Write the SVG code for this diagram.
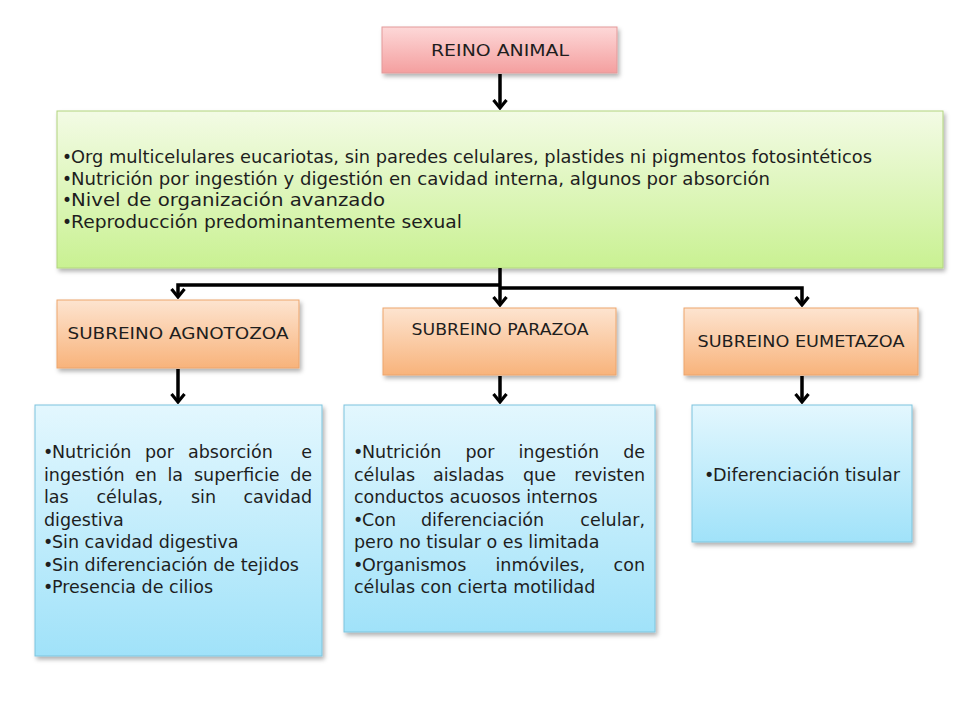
<svg xmlns="http://www.w3.org/2000/svg" width="960" height="720" viewBox="0 0 960 720">
<style>
  text { font-family: "DejaVu Sans", "Liberation Sans", sans-serif; fill: #1e1e1e; }
  .t { font-size: 17.5px; }
  .g { font-size: 17px; }
  .h { font-size: 15.5px; }
  .box { stroke-width: 1; filter: url(#sh); }
  .pink { fill: url(#gPink); stroke: #e39a9a; }
  .green { fill: url(#gGreen); stroke: #b2d47e; }
  .orange { fill: url(#gOrange); stroke: #eda56c; }
  .blue { fill: url(#gBlue); stroke: #7cc4dd; }
  .conn path { fill: none; stroke: #000; stroke-width: 3.5; marker-end: url(#arr); }
</style>
<defs>
  <linearGradient id="gPink" x1="0" y1="0" x2="0" y2="1">
    <stop offset="0" stop-color="#fdd8d8"/>
    <stop offset="1" stop-color="#f49f9f"/>
  </linearGradient>
  <linearGradient id="gGreen" x1="0" y1="0" x2="0" y2="1">
    <stop offset="0" stop-color="#f3fbe5"/>
    <stop offset="1" stop-color="#c9f192"/>
  </linearGradient>
  <linearGradient id="gOrange" x1="0" y1="0" x2="0" y2="1">
    <stop offset="0" stop-color="#fde4d0"/>
    <stop offset="1" stop-color="#f8b37b"/>
  </linearGradient>
  <linearGradient id="gBlue" x1="0" y1="0" x2="0" y2="1">
    <stop offset="0" stop-color="#e3f7fe"/>
    <stop offset="1" stop-color="#a0e2f9"/>
  </linearGradient>
  <filter id="sh" x="-10%" y="-10%" width="120%" height="130%">
    <feDropShadow dx="2" dy="3" stdDeviation="2" flood-color="#000" flood-opacity="0.3"/>
  </filter>
  <marker id="arr" markerUnits="userSpaceOnUse" viewBox="-12 -9 14 18" refX="0" refY="0" markerWidth="14" markerHeight="18" orient="auto">
    <path d="M-8,-6.5 L0,0 L-8,6.5" fill="none" stroke="#000" stroke-width="3.2" stroke-linejoin="miter"/>
  </marker>
</defs>

<g id="reino">
  <rect class="box pink" x="382" y="27" width="235" height="46"/>
  <text class="h" x="500" y="56" text-anchor="middle" textLength="138" lengthAdjust="spacingAndGlyphs">REINO ANIMAL</text>
</g>

<g id="caracteristicas">
  <rect class="box green" x="57" y="111" width="886" height="157"/>
  <text class="g" x="62" y="163">•</text>
  <text class="g" x="71" y="163" textLength="801" lengthAdjust="spacingAndGlyphs">Org multicelulares eucariotas, sin paredes celulares, plastides ni pigmentos fotosintéticos</text>
  <text class="g" x="62" y="185">•</text>
  <text class="g" x="71" y="185" textLength="699" lengthAdjust="spacingAndGlyphs">Nutrición por ingestión y digestión en cavidad interna, algunos por absorción</text>
  <text class="g" x="62" y="206">•</text>
  <text class="g" x="71" y="206" textLength="314" lengthAdjust="spacingAndGlyphs">Nivel de organización avanzado</text>
  <text class="g" x="62" y="228">•</text>
  <text class="g" x="71" y="228" textLength="391" lengthAdjust="spacingAndGlyphs">Reproducción predominantemente sexual</text>
</g>

<g id="agnotozoa">
  <rect class="box orange" x="57" y="300" width="242" height="68"/>
  <text class="h" x="178" y="339" text-anchor="middle" textLength="221" lengthAdjust="spacingAndGlyphs">SUBREINO  AGNOTOZOA</text>
</g>

<g id="parazoa">
  <rect class="box orange" x="383" y="308" width="233" height="67"/>
  <text class="h" x="500" y="335" text-anchor="middle" textLength="177" lengthAdjust="spacingAndGlyphs">SUBREINO PARAZOA</text>
</g>

<g id="eumetazoa">
  <rect class="box orange" x="684" y="308" width="234" height="67"/>
  <text class="h" x="801" y="347" text-anchor="middle" textLength="207" lengthAdjust="spacingAndGlyphs">SUBREINO EUMETAZOA</text>
</g>

<g id="agnotozoa-detalle">
  <rect class="box blue" x="35" y="405" width="287" height="251"/>
  <text class="t" x="43" y="458">•</text>
  <text class="t" y="458"><tspan x="52">Nutrición</tspan><tspan x="145">por</tspan><tspan x="188">absorción</tspan></text>
  <text class="t" x="312" y="458" text-anchor="end">e</text>
  <text class="t" y="480.5"><tspan x="44">ingestión</tspan><tspan x="135">en</tspan><tspan x="167.5">la</tspan><tspan x="194">superficie</tspan></text>
  <text class="t" x="312" y="480.5" text-anchor="end">de</text>
  <text class="t" y="503"><tspan x="44">las</tspan><tspan x="96.5">células,</tspan><tspan x="191">sin</tspan></text>
  <text class="t" x="312" y="503" text-anchor="end">cavidad</text>
  <text class="t" x="44" y="525.5">digestiva</text>
  <text class="t" x="43" y="548">•</text>
  <text class="t" x="52" y="548">Sin cavidad digestiva</text>
  <text class="t" x="43" y="570.5">•</text>
  <text class="t" x="52" y="570.5">Sin diferenciación de tejidos</text>
  <text class="t" x="43" y="593">•</text>
  <text class="t" x="52" y="593">Presencia de cilios</text>
</g>

<g id="parazoa-detalle">
  <rect class="box blue" x="344" y="405" width="311" height="227"/>
  <text class="t" x="353" y="458">•</text>
  <text class="t" y="458"><tspan x="362">Nutrición</tspan><tspan x="465.5">por</tspan><tspan x="518.5">ingestión</tspan></text>
  <text class="t" x="645" y="458" text-anchor="end">de</text>
  <text class="t" y="480.5"><tspan x="354">células</tspan><tspan x="433">aisladas</tspan><tspan x="523">que</tspan></text>
  <text class="t" x="645" y="480.5" text-anchor="end">revisten</text>
  <text class="t" x="354" y="503">conductos acuosos internos</text>
  <text class="t" x="353" y="525.5">•</text>
  <text class="t" y="525.5"><tspan x="362">Con</tspan><tspan x="421">diferenciación</tspan></text>
  <text class="t" x="645" y="525.5" text-anchor="end">celular,</text>
  <text class="t" x="354" y="548">pero no tisular o es limitada</text>
  <text class="t" x="353" y="570.5">•</text>
  <text class="t" y="570.5"><tspan x="362">Organismos</tspan><tspan x="495.5">inmóviles,</tspan></text>
  <text class="t" x="645" y="570.5" text-anchor="end">con</text>
  <text class="t" x="354" y="593">células con cierta  motilidad</text>
</g>

<g id="eumetazoa-detalle">
  <rect class="box blue" x="692" y="405" width="220" height="137"/>
  <text class="t" x="704" y="481">•</text>
  <text class="t" x="713" y="481" textLength="187" lengthAdjust="spacingAndGlyphs">Diferenciación tisular</text>
</g>

<g id="conectores" class="conn">
  <path d="M500,74 L500,108"/>
  <path d="M500,268 L500,305"/>
  <path d="M500,285 L178,285 L178,297"/>
  <path d="M500,288 L802,288 L802,305"/>
  <path d="M178,369 L178,402"/>
  <path d="M500,376 L500,402"/>
  <path d="M802,376 L802,402"/>
</g>
</svg>
